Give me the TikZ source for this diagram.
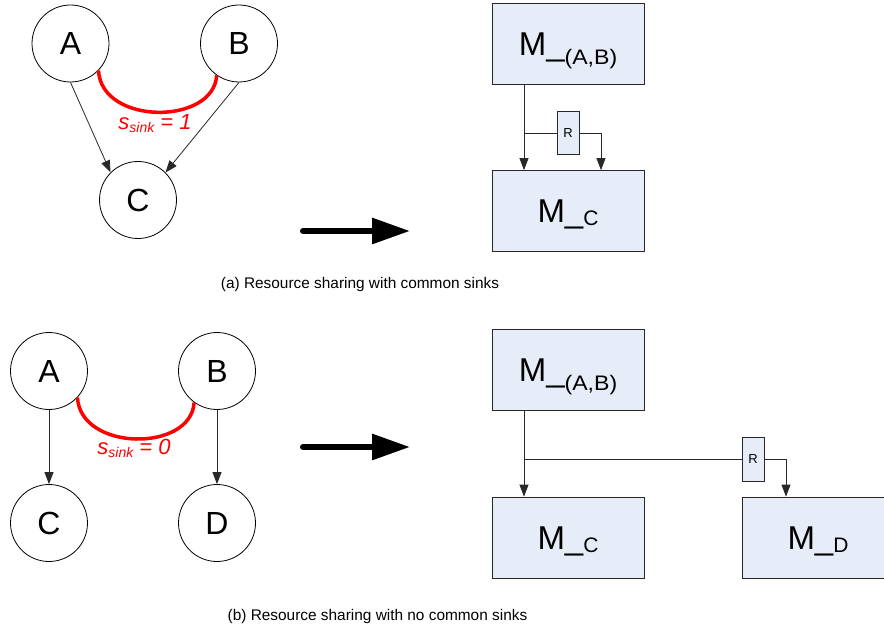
\documentclass[tikz,border=0pt]{standalone}
\usepackage{fontspec}
\setmainfont{Liberation Sans}
\usetikzlibrary{arrows.meta}
\definecolor{boxfill}{RGB}{231,237,248}
\definecolor{edge}{RGB}{40,40,40}
\newcommand{\fsz}[1]{\fontsize{#1}{#1}\selectfont}
% module labels: large "M_" followed by a lowered, smaller subscript
\newcommand{\modlabel}[3]{M\_\raisebox{-#1}{\fsz{#2}#3}}
\begin{document}
\begin{tikzpicture}[x=1pt,y=-1pt,
  vertex/.style={circle, draw=black, line width=0.8pt, minimum size=77pt,
    inner sep=0pt, font=\fsz{32}},
  module/.style={draw=edge, fill=boxfill, line width=0.8pt,
    minimum width=152pt, minimum height=81pt, inner sep=0pt,
    text height=23.5pt, text depth=0pt, font=\fsz{33}},
  reg/.style={draw=edge, fill=boxfill, line width=0.8pt,
    minimum width=22pt, minimum height=43pt, inner sep=0pt, font=\fsz{13}},
  link/.style={draw=edge, line width=0.8pt, -{Triangle[length=12pt,width=9pt]}},
  wire/.style={draw=edge, line width=0.8pt},
  share/.style={draw=red, line width=3.5pt},
  sinklabel/.style={text=red, inner sep=0pt, font=\fsz{22}\itshape},
  bigarrow/.style={draw=black, line width=6pt, line cap=round,
    -{Triangle[length=38pt,width=25pt]}},
  caption/.style={inner sep=0pt, font=\fsz{15.4}}]

\clip (0,0) rectangle (884,631);
\fill[white] (0,0) rectangle (884,631);

% ---------- (a) common sinks ----------
\node[vertex] (A1) at (70.5,43.5) {A};
\node[vertex] (B1) at (239,43.5) {B};
\node[vertex] (C1) at (138,200) {C};
\draw[share] (A1.-44) .. controls +(3,55) and +(-3,50) .. (B1.235);
\node[sinklabel] (s1) at (155,124) {s\raisebox{-3pt}{\fsz{14}sink} = 1};
\draw[link] (A1.south) -- (C1.135);
\draw[link] (B1.south) -- (C1.45);

\coordinate (g1) at (303,231);
\coordinate (h1) at (410,231);
\draw[bigarrow] (g1) -- (h1);

\node[module] (MAB1) at (568,43.5) {\modlabel{9pt}{21}{\scalebox{1.1}[1]{(A,B)}}};
\node[module] (MC1) at (568,211) {\modlabel{3pt}{21}{C}};
\node[reg] (R1) at (568,133) {R};
\coordinate (j1) at (524,133);
\coordinate (k1) at (601,133);
\draw[link] (j1 |- MAB1.south) -- (j1 |- MC1.north);
\draw[wire] (j1) -- (R1.west);
\draw[link] (R1.east) -| (k1 |- MC1.north);

\node[caption] (capA) at (360,285) {(a) Resource sharing with common sinks};

% ---------- (b) no common sinks ----------
\node[vertex] (A2) at (49,371) {A};
\node[vertex] (B2) at (217,371) {B};
\node[vertex] (C2) at (49,523) {C};
\node[vertex] (D2) at (217,523) {D};
\draw[share] (A2.-43) .. controls +(3,54) and +(-3,50) .. (B2.234);
\node[sinklabel] (s2) at (134,448) {s\raisebox{-3pt}{\fsz{14}sink} = 0};
\draw[link] (A2) -- (C2);
\draw[link] (B2) -- (D2);

\coordinate (g2) at (303,447);
\coordinate (h2) at (410,447);
\draw[bigarrow] (g2) -- (h2);

\node[module] (MAB2) at (568,370) {\modlabel{9pt}{21}{\scalebox{1.1}[1]{(A,B)}}};
\node[module] (MC2) at (568,537.5) {\modlabel{3pt}{21}{C}};
\node[module] (MD2) at (818,537.5) {\modlabel{3pt}{21}{D}};
\node[reg, minimum height=44pt] (R2) at (753,459) {R};
\coordinate (j2) at (524,459);
\coordinate (k2) at (786,459);
\draw[link] (j2 |- MAB2.south) -- (j2 |- MC2.north);
\draw[wire] (j2) -- (R2.west);
\draw[link] (R2.east) -| (k2 |- MD2.north);

\node[caption] (capB) at (377.5,617) {(b) Resource sharing with no common sinks};
\end{tikzpicture}
\end{document}
